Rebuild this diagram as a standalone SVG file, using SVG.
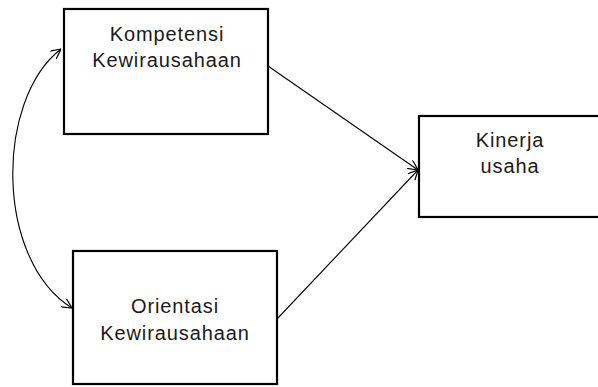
<svg xmlns="http://www.w3.org/2000/svg" width="598" height="387" viewBox="0 0 598 387">
<style>
.box{fill:#fff;stroke:#000;stroke-width:2.2}
.lbl{font-family:"Liberation Sans",Arial,sans-serif;font-size:20px;letter-spacing:0.9px;fill:#1a1a1a;text-anchor:middle}
.con{fill:none;stroke:#000;stroke-width:1.1}
</style>
<defs>
<marker id="ah" viewBox="0 0 10 10" refX="10" refY="5" markerWidth="10" markerHeight="10" markerUnits="userSpaceOnUse" orient="auto-start-reverse">
<path d="M0,0 L10,5 L0,10" fill="none" stroke="#000" stroke-width="1.2"/>
</marker>
</defs>
<g id="connectors">
<path class="con" d="M268,66 L418,170" marker-end="url(#ah)"/>
<path class="con" d="M277,319 L418,170" marker-end="url(#ah)"/>
<path class="con" d="M61,49 C-5,100 -5,260 72,308" marker-start="url(#ah)" marker-end="url(#ah)"/>
</g>
<g id="node-kompetensi">
<rect class="box" x="64" y="9" width="204" height="125"/>
<text class="lbl" x="167" y="41">Kompetensi</text>
<text class="lbl" x="167" y="67">Kewirausahaan</text>
</g>
<g id="node-orientasi">
<rect class="box" x="73" y="251" width="204" height="133"/>
<text class="lbl" x="175" y="313">Orientasi</text>
<text class="lbl" x="175" y="340">Kewirausahaan</text>
</g>
<g id="node-kinerja">
<rect class="box" x="419" y="116" width="190" height="101"/>
<text class="lbl" x="510" y="147">Kinerja</text>
<text class="lbl" x="510" y="173">usaha</text>
</g>
</svg>
